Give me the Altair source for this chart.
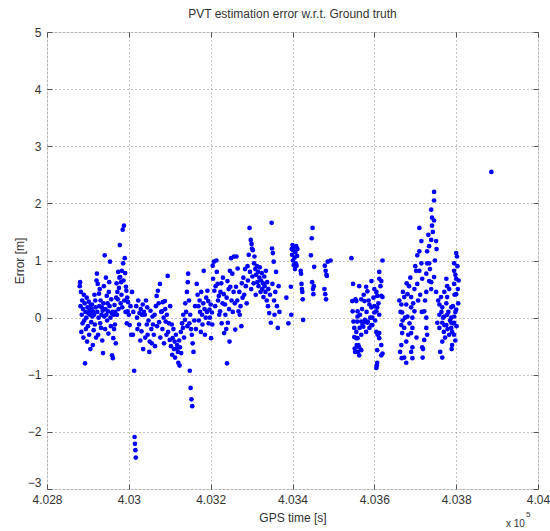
import altair as alt
import pandas as pd

# GPS time [s] and error [m], grouped by visible pass
seg_a = [(402880, 0.55), (402881, 0.62), (402882, 0.20), (402883, 0.45), (402884, -0.25), (402885, 0.05),
         (402886, 0.30), (402887, -0.10), (402888, 0.15), (402889, -0.35), (402890, 0.40), (402891, -0.05),
         (402892, 0.25), (402893, -0.80), (402894, 0.10), (402895, -0.20), (402896, 0.00), (402897, 0.35),
         (402898, -0.42), (402899, 0.18), (402900, -0.15), (402901, 0.08), (402902, 0.28), (402903, -0.30),
         (402904, 0.12), (402905, 0.05), (402906, -0.55), (402907, 0.22), (402908, -0.08), (402909, 0.15),
         (402910, 0.23), (402911, 0.02), (402912, -0.48), (402913, 0.10), (402914, -0.22), (402915, 0.05),
         (402916, 0.40), (402917, -0.12), (402918, 0.30), (402919, 0.18), (402920, -0.35), (402921, 0.65),
         (402922, 0.77), (402923, 0.10), (402924, 0.59), (402925, -0.30), (402926, 0.00), (402927, 0.42),
         (402928, 0.20), (402929, 0.50), (402930, -0.10), (402931, 0.30), (402932, -0.18), (402933, 0.05),
         (402934, 0.18), (402935, -0.40), (402936, 0.12), (402937, -0.62), (402938, 0.25), (402939, 0.55),
         (402940, 0.02), (402941, 1.09), (402942, -0.20), (402943, 0.15), (402944, 0.70), (402945, 0.05),
         (402946, 0.38), (402947, -0.05), (402948, 0.25), (402949, 0.11), (402950, -0.28), (402951, 0.45),
         (402952, 0.62), (402953, 0.20), (402954, 0.98), (402955, 0.00), (402956, -0.15), (402957, 0.32),
         (402958, 0.08), (402959, -0.66), (402960, 0.10), (402961, -0.71), (402962, -0.36), (402963, 0.05),
         (402964, -0.20), (402965, 0.22), (402966, -0.12), (402967, 0.10), (402968, -0.45), (402969, 0.35),
         (402970, 0.60), (402971, 0.05), (402972, 0.45), (402973, 0.32), (402974, 0.80), (402975, 0.15),
         (402976, 0.52), (402977, 0.70), (402978, 1.27), (402979, 0.71), (402980, 0.25), (402981, 0.62),
         (402982, 0.40), (402983, 0.82), (402984, 0.18), (402985, 1.54), (402986, 0.95), (402987, 0.65),
         (402988, 1.61), (402989, 0.30), (402990, 1.04), (402991, 0.78), (402992, 0.10), (402993, 0.54),
         (402994, 0.47), (402995, -0.10), (402996, 0.35), (402997, 0.11), (402998, 0.27)]

seg_b = [(403000, 0.05), (403002, -0.13), (403004, 0.20), (403006, -0.30), (403008, 0.45), (403010, -0.30),
         (403011, 0.10), (403013, -0.93), (403014, -2.09), (403015, -2.21), (403016, -2.32), (403017, -2.45),
         (403018, 0.20), (403020, 0.00), (403021, -0.20), (403023, 0.30), (403025, -0.12), (403026, 0.08),
         (403028, -0.40), (403029, 0.15), (403031, -0.24), (403032, 0.05), (403034, 0.23), (403035, -0.55),
         (403037, 0.10), (403039, 0.05), (403040, -0.35), (403042, 0.30), (403044, -0.12), (403045, 0.18),
         (403046, -0.30), (403048, -0.05), (403050, -0.60), (403051, -0.42), (403053, 0.12), (403055, -0.20),
         (403056, -0.45), (403058, 0.02), (403059, -0.12), (403061, -0.30), (403063, 0.05), (403064, -0.50),
         (403066, 0.20), (403068, 0.38), (403069, -0.15), (403071, 0.47), (403073, 0.25), (403074, -0.08),
         (403076, 0.59), (403077, -0.35), (403079, 0.10), (403081, 0.11), (403082, -0.20), (403083, 0.27),
         (403085, 0.00), (403086, -0.45), (403088, 0.29), (403089, 0.15), (403090, -0.07), (403092, -0.30),
         (403093, 0.05), (403095, 0.73), (403096, -0.25), (403098, -0.10), (403100, -0.39), (403101, 0.20),
         (403103, -0.50), (403105, -0.12), (403106, -0.65), (403107, -0.36), (403109, -0.20), (403110, -0.55),
         (403112, -0.42), (403113, -0.70), (403115, -0.30), (403117, -0.54), (403118, -0.48), (403120, -0.60),
         (403121, -0.79), (403123, -0.40), (403124, -0.84), (403125, -0.52), (403127, -0.25), (403128, -0.62),
         (403130, -0.10), (403132, -0.18), (403133, 0.05), (403135, -0.35), (403137, -0.04), (403138, 0.25),
         (403140, 0.10), (403142, 0.45), (403143, -0.15), (403144, 0.62), (403145, 0.77), (403147, 0.30),
         (403148, -0.10), (403149, -0.93), (403150, 0.05), (403151, -1.23), (403152, -0.20), (403153, -1.43),
         (403154, -0.30), (403155, -1.55), (403156, -0.45), (403158, -0.60), (403160, -0.05), (403162, 0.20),
         (403164, -0.20)]

seg_c = [(403166, 0.59), (403168, 0.40), (403170, 0.20), (403171, -0.05), (403173, 0.30), (403174, 0.10),
         (403176, -0.25), (403177, 0.45), (403179, 0.05), (403180, -0.12), (403182, 0.25), (403183, 0.82),
         (403185, 0.15), (403186, -0.30), (403188, 0.00), (403189, 0.35), (403191, 0.10), (403192, 0.47),
         (403194, 0.29), (403195, -0.10), (403197, 0.14), (403198, 0.00), (403200, 0.23), (403201, -0.36),
         (403203, 0.09), (403204, -0.12), (403205, 0.91), (403206, 0.68), (403208, 0.98), (403209, 0.47),
         (403211, 0.20), (403212, 0.55), (403214, 1.00), (403215, 0.80), (403217, 0.59), (403218, 0.30),
         (403220, 0.38), (403221, 0.05), (403223, 0.11), (403224, 0.45), (403226, 0.60), (403227, -0.10),
         (403229, 0.25), (403230, 0.70), (403232, 0.41), (403233, -0.27), (403235, 0.23), (403236, 0.05),
         (403238, -0.20), (403239, 0.35), (403240, -0.80), (403241, 0.64), (403242, -0.09), (403244, 0.50),
         (403245, 0.15), (403246, -0.42), (403247, 0.82), (403248, 0.54), (403250, 1.04), (403251, 0.30),
         (403253, 0.77), (403254, 0.10), (403256, 0.45), (403257, 1.07), (403259, 0.25), (403260, -0.21),
         (403262, 0.54), (403263, 1.07), (403265, 0.30), (403266, 0.86), (403268, 0.11), (403270, 0.45),
         (403271, 0.05), (403273, 0.20), (403275, -0.15), (403276, 0.60), (403278, 0.35)]

seg_d = [(403280, 0.70), (403282, 0.40), (403284, 0.85), (403286, 0.55), (403288, 0.25), (403290, 0.90),
         (403291, 0.65), (403293, 1.10), (403295, 1.57), (403296, 0.80), (403298, 1.36), (403299, 0.50),
         (403300, 1.29), (403301, 1.21), (403302, 0.72), (403303, 1.18), (403305, 0.60), (403306, 0.95),
         (403307, 1.07), (403309, 0.85), (403310, 0.40), (403311, 0.75), (403313, 0.90), (403314, 0.62),
         (403316, 0.80), (403317, 0.55), (403319, 0.70), (403320, 0.88), (403322, 0.45), (403323, 0.65),
         (403325, 0.78), (403326, 0.50), (403328, 0.60), (403329, 0.36), (403331, 0.72), (403332, 0.55),
         (403334, 0.45), (403335, 0.82), (403337, 0.30), (403338, 0.62), (403340, 0.20), (403341, 0.50),
         (403343, 0.08), (403345, 0.40), (403347, -0.09), (403349, 1.66), (403350, 1.21), (403351, 0.59),
         (403352, 1.13), (403354, 0.98), (403355, 0.30), (403356, 0.05), (403358, 0.45), (403360, 0.80),
         (403362, 0.20), (403364, -0.18), (403366, 0.55), (403368, 0.10)]

seg_e = [(403385, 0.35), (403390, -0.10), (403396, 0.54), (403397, 0.05), (403398, 1.20), (403399, 1.10),
         (403400, 1.27), (403401, 1.00), (403402, 1.18), (403403, 0.92), (403404, 1.23), (403405, 1.05),
         (403406, 0.85), (403407, 1.15), (403408, 0.95), (403409, 1.25), (403410, 0.91), (403411, 1.08),
         (403412, 1.20), (403420, 0.82), (403421, 0.77), (403422, 0.59), (403423, 0.50), (403424, 0.45),
         (403425, 0.32), (403426, -0.04), (403445, 1.09), (403447, 1.39), (403449, 1.57), (403448, 0.62),
         (403450, 0.50), (403451, 0.41), (403452, 0.55), (403453, 0.89), (403478, 0.50), (403479, 0.91),
         (403480, 0.41), (403481, 0.82), (403482, 0.32), (403483, 0.75), (403484, 0.73), (403486, 0.98),
         (403493, 1.00)]

seg_f = [(403544, 1.04), (403546, 0.29), (403547, 0.11), (403548, 0.59), (403549, -0.07), (403551, -0.18),
         (403551, -0.34), (403552, -0.54), (403553, -0.60), (403554, 0.32), (403556, 0.29), (403556, -0.25),
         (403556, -0.36), (403557, -0.48), (403558, -0.07), (403559, 0.11), (403559, 0.02), (403559, -0.36),
         (403560, -0.60), (403561, -0.48), (403563, 0.55), (403563, -0.52), (403563, -0.66), (403564, -0.18),
         (403565, 0.05), (403568, 0.32), (403568, -0.07), (403568, -0.30), (403568, -0.57), (403570, 0.15),
         (403571, -0.13), (403573, -0.16), (403574, 0.40), (403576, 0.29), (403576, -0.07), (403577, -0.04),
         (403580, 0.54), (403580, -0.25), (403581, 0.10), (403583, 0.46), (403583, -0.09), (403584, -0.07),
         (403586, 0.30), (403588, 0.23), (403588, -0.18), (403590, 0.00), (403593, 0.64), (403593, 0.18),
         (403593, -0.13), (403595, -0.13), (403595, 0.00), (403598, 0.35), (403600, 0.50), (403600, 0.20),
         (403600, 0.09), (403602, -0.05), (403605, 0.45), (403605, 0.11), (403605, -0.25), (403605, -0.88),
         (403606, -0.84), (403607, 0.38), (403607, 0.18), (403607, -0.57), (403607, -0.79), (403608, -0.30),
         (403610, 0.25), (403612, 0.80), (403612, 0.68), (403612, 0.05), (403612, -0.36), (403612, -0.27),
         (403615, 0.55), (403617, 0.38), (403617, 0.64), (403617, -0.48), (403617, -0.66), (403620, 1.00),
         (403620, 0.36), (403620, -0.63)]

seg_g = [(403661, 0.30), (403663, -0.60), (403664, 0.10), (403666, 0.23), (403666, -0.13), (403666, -0.48),
         (403667, -0.71), (403668, 0.09), (403668, -0.27), (403669, -0.05), (403670, 0.45), (403673, 0.36),
         (403673, -0.18), (403673, -0.70), (403675, 0.00), (403678, 0.23), (403678, -0.42), (403678, -0.79),
         (403679, 0.60), (403681, 0.41), (403681, 0.02), (403683, -0.30), (403685, 0.55), (403686, -0.10),
         (403688, 0.70), (403690, 0.36), (403690, 0.18), (403690, -0.27), (403690, -0.60), (403693, 0.00),
         (403693, -0.18), (403693, -0.52), (403693, -0.71), (403695, 0.25), (403698, 0.50), (403698, 0.11),
         (403700, 0.90), (403702, 0.82), (403703, -0.35), (403705, 0.59), (403705, 1.09), (403707, 0.30),
         (403710, 1.57), (403710, 1.16), (403710, 0.82), (403712, 0.40), (403715, 1.34), (403715, 0.95),
         (403716, 0.10), (403717, 0.68), (403717, -0.52), (403718, -0.70), (403719, -0.55), (403722, 0.11),
         (403722, -0.39), (403724, 0.30), (403727, 0.77), (403727, 0.45), (403727, 0.00), (403727, -0.18),
         (403729, 1.16), (403729, 0.95), (403729, -0.30), (403732, 1.45), (403734, 1.25), (403734, 0.95),
         (403734, 0.64), (403736, 0.85), (403739, 1.89), (403739, 1.36), (403739, 0.62), (403739, 0.50),
         (403741, 1.75), (403741, 1.61), (403743, 1.50), (403746, 2.20), (403746, 2.05), (403746, 1.70),
         (403746, 0.71), (403748, 1.00), (403751, 1.34), (403751, 0.45), (403752, 1.20)]

seg_h = [(403754, -0.09), (403756, 0.30), (403759, 0.23), (403759, 0.05), (403759, -0.18), (403761, -0.60),
         (403763, 0.36), (403764, 0.10), (403766, 0.18), (403766, -0.09), (403766, -0.42), (403766, -0.70),
         (403768, 0.00), (403770, -0.25), (403771, 0.45), (403771, 0.02), (403771, -0.13), (403773, -0.35),
         (403776, 0.68), (403776, 0.25), (403776, -0.13), (403778, 0.55), (403778, 0.36), (403778, 0.05),
         (403779, -0.20), (403781, 0.10), (403783, 0.50), (403783, -0.30), (403785, -0.05), (403788, 0.18),
         (403788, 0.00), (403788, -0.09), (403788, -0.18), (403789, -0.55), (403790, -0.25), (403790, -0.48),
         (403792, 0.20), (403793, -0.10), (403795, 0.95), (403795, 0.82), (403795, 0.59), (403795, 0.02),
         (403795, -0.09), (403795, -0.30), (403796, 0.40), (403798, 0.75), (403798, 0.10), (403798, -0.40),
         (403800, 1.13), (403800, 0.68), (403800, 0.41), (403800, 0.14), (403801, -0.15), (403802, 1.07),
         (403803, 0.90), (403804, 0.50), (403805, 0.25), (403806, 0.65)]

outlier = [(403886, 2.55)]

x_ticks = [402800, 403000, 403200, 403400, 403600, 403800, 404000]
y_ticks = [-3, -2, -1, 0, 1, 2, 3, 4, 5]

rows = []
for seg in (seg_a, seg_b, seg_c, seg_d, seg_e, seg_f, seg_g, seg_h, outlier):
    rows.extend(seg)
df = pd.DataFrame(rows, columns=["t", "err"])

W, H = 491, 457
FONT = "Liberation Sans"
TXT = "#333333"
FRAME = "#555555"

x_scale = alt.Scale(domain=[402800, 404000], nice=False, zero=False)
y_scale = alt.Scale(domain=[-3, 5], nice=False, zero=False)
label_expr = "format(datum.value / 100000, '.4~f')"

base = alt.Chart(df)

points = base.mark_point(filled=True, shape="circle", size=22, color="#0000ff", opacity=1).encode(
    x=alt.X("t:Q", scale=x_scale,
            axis=alt.Axis(orient="bottom", values=x_ticks, labelExpr=label_expr, title="GPS time [s]",
                          grid=True, gridDash=[1, 3], gridColor="#8a8a8a", gridWidth=1,
                          domain=False, ticks=True, tickSize=5, tickColor=FRAME, offset=-5,
                          labelPadding=5, labelFont=FONT, labelFontSize=12, labelColor=TXT,
                          titleFont=FONT, titleFontSize=12, titleFontWeight="normal", titleColor=TXT,
                          titlePadding=7, labelFlush=False)),
    y=alt.Y("err:Q", scale=y_scale,
            axis=alt.Axis(orient="left", values=y_ticks, format="d", title="Error [m]",
                          grid=True, gridDash=[1, 3], gridColor="#8a8a8a", gridWidth=1,
                          domain=False, ticks=True, tickSize=5, tickColor=FRAME, offset=-5,
                          labelPadding=6, labelFont=FONT, labelFontSize=12, labelColor=TXT,
                          labelBaseline={"condition": {"test": "datum.value == -3", "value": "bottom"},
                                         "value": "middle"},
                          titleFont=FONT, titleFontSize=12, titleFontWeight="normal", titleColor=TXT,
                          titlePadding=1, labelFlush=False)),
)

mirror = base.mark_point(opacity=0).encode(
    x=alt.X("t:Q", scale=x_scale,
            axis=alt.Axis(orient="top", values=x_ticks, labels=False, title=None, grid=False,
                          domain=False, ticks=True, tickSize=5, tickColor=FRAME, offset=-5)),
    y=alt.Y("err:Q", scale=y_scale,
            axis=alt.Axis(orient="right", values=y_ticks, labels=False, title=None, grid=False,
                          domain=False, ticks=True, tickSize=5, tickColor=FRAME, offset=-5)),
)

exp_base = alt.Chart(pd.DataFrame({"label": ["x 10"]})).mark_text(
    font=FONT, fontSize=10, color=TXT, align="left", baseline="middle"
).encode(x=alt.value(459), y=alt.value(492), text="label:N")

exp_sup = alt.Chart(pd.DataFrame({"label": ["5"]})).mark_text(
    font=FONT, fontSize=8, color=TXT, align="left", baseline="middle"
).encode(x=alt.value(479), y=alt.value(483), text="label:N")

chart = alt.layer(points, mirror, exp_base, exp_sup).resolve_axis(
    x="independent", y="independent"
).properties(
    width=W, height=H,
    title=alt.TitleParams("PVT estimation error w.r.t. Ground truth", font=FONT, fontSize=12,
                          fontWeight="normal", color=TXT, anchor="middle", offset=5),
    autosize=alt.AutoSizeParams(type="none"),
    padding={"left": 47, "top": 32, "right": 12, "bottom": 42},
).configure_view(stroke=FRAME, strokeWidth=1.3).configure(background="white")

chart.save("out.html", embed_options={"renderer": "svg", "actions": False})
